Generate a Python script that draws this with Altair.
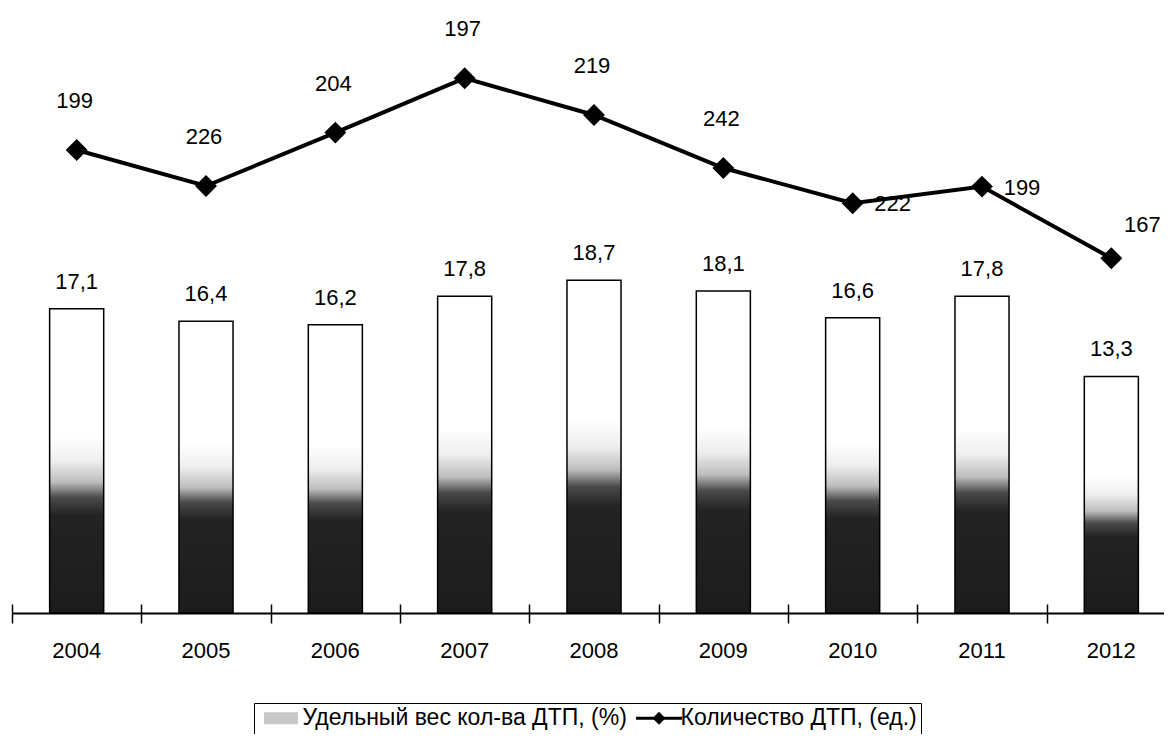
import altair as alt
import pandas as pd

# ---- data ----
years = ["2004", "2005", "2006", "2007", "2008", "2009", "2010", "2011", "2012"]
share_pct = [17.1, 16.4, 16.2, 17.8, 18.7, 18.1, 16.6, 17.8, 13.3]          # bars, %
count_labels = ["199", "226", "204", "197", "219", "242", "222", "199", "167"]  # line labels, ед.
count_level = [231.5, 213.5, 240.2, 267.4, 249.0, 222.5, 204.9, 213.2, 177.4]  # line height as drawn
bar_name = "Удельный вес кол-ва ДТП, (%)"
line_name = "Количество ДТП, (ед.)"

df = pd.DataFrame({
    "year": years,
    "share": share_pct,
    "share_label": [f"{v:.1f}".replace(".", ",") for v in share_pct],
    "level": count_level,
    "count_label": count_labels,
    "series": [line_name] * len(years),
})

FONT = "Liberation Sans"

x_scale = alt.Scale(domain=years, range=[0, 1164], paddingInner=0.582, paddingOuter=0.291)
y_bar = alt.Scale(domain=[0, 33.73])
y_line = alt.Scale(domain=[0, 300])

bar_fill = alt.Gradient(
    gradient="linear", x1=0, y1=0, x2=0, y2=1,
    stops=[
        alt.GradientStop(offset=0, color="#ffffff"),
        alt.GradientStop(offset=0.42, color="#ffffff"),
        alt.GradientStop(offset=0.50, color="#eeeeee"),
        alt.GradientStop(offset=0.57, color="#bdbdbd"),
        alt.GradientStop(offset=0.62, color="#4a4a4a"),
        alt.GradientStop(offset=0.68, color="#232323"),
        alt.GradientStop(offset=1, color="#1c1c1c"),
    ],
)

base = alt.Chart(df)

bars = base.mark_bar(fill=bar_fill, stroke="black", strokeWidth=1.5).encode(
    x=alt.X("year:N", scale=x_scale, axis=alt.Axis(
        title=None, orient="bottom", domain=True, domainColor="black", domainWidth=2, ticks=False,
        labelFont=FONT, labelFontSize=22, labelColor="black", labelPadding=27,
        labelAngle=0, grid=False)),
    y=alt.Y("share:Q", scale=y_bar, axis=None),
)

bar_text = base.mark_text(font=FONT, fontSize=22, color="black", baseline="middle", dy=-27).encode(
    x=alt.X("year:N", scale=x_scale, axis=None),
    y=alt.Y("share:Q", scale=y_bar, axis=None),
    text="share_label:N",
)

line = base.mark_line(strokeWidth=4, color="black").encode(
    x=alt.X("year:N", scale=x_scale, axis=alt.Axis(
        title=None, orient="bottom", domain=False, labels=False, ticks=True, tickSize=19,
        tickColor="black", tickWidth=1.5, tickOffset=-64.67, offset=-9, grid=False)),
    y=alt.Y("level:Q", scale=y_line, axis=None),
)

points = base.mark_point(shape="diamond", filled=True, size=480, color="black", opacity=1).encode(
    x=alt.X("year:N", scale=x_scale, axis=None),
    y=alt.Y("level:Q", scale=y_line, axis=None),
)

# legend only (no marks drawn: data filtered out, scale domains are explicit)
legend = alt.Legend(
    title=None, orient="none", legendX=242, legendY=690, direction="horizontal",
    strokeColor="black", padding=3.5, labelFont=FONT, labelFontSize=23, labelColor="black",
    labelLimit=0, symbolSize=400, symbolStrokeWidth=1, symbolStrokeColor="black",
    symbolOpacity=1, symbolOffset=12, labelOffset=10, columnPadding=6,
)
series_domain = [bar_name, line_name]
legend_layer = base.transform_filter("false").mark_point(filled=True, size=400, strokeWidth=1).encode(
    x=alt.X("year:N", scale=x_scale, axis=None),
    y=alt.Y("level:Q", scale=y_line, axis=None),
    color=alt.Color("series:N", scale=alt.Scale(domain=series_domain, range=["#c8c8c8", "black"]),
                    legend=legend),
    shape=alt.Shape("series:N", scale=alt.Scale(
        domain=series_domain,
        range=["M-1.7,-0.6H1.7V0.6H-1.7Z",
               "M-2.3,-0.14H2.3V0.14H-2.3Z M0,-0.65L0.65,0L0,0.65L-0.65,0Z"]),
        legend=legend),
)

above_years = years[:6]
right_years = ["2010", "2011"]

t_above = base.transform_filter(alt.FieldOneOfPredicate(field="year", oneOf=above_years)).mark_text(
    font=FONT, fontSize=22, color="black", baseline="middle", dx=-2, dy=-49).encode(
    x=alt.X("year:N", scale=x_scale, axis=None),
    y=alt.Y("level:Q", scale=y_line, axis=None),
    text="count_label:N",
)
t_right = base.transform_filter(alt.FieldOneOfPredicate(field="year", oneOf=right_years)).mark_text(
    font=FONT, fontSize=22, color="black", baseline="middle", dx=40, dy=1).encode(
    x=alt.X("year:N", scale=x_scale, axis=None),
    y=alt.Y("level:Q", scale=y_line, axis=None),
    text="count_label:N",
)
t_last = base.transform_filter(alt.FieldEqualPredicate(field="year", equal="2012")).mark_text(
    font=FONT, fontSize=22, color="black", baseline="middle", dx=31, dy=-33).encode(
    x=alt.X("year:N", scale=x_scale, axis=None),
    y=alt.Y("level:Q", scale=y_line, axis=None),
    text="count_label:N",
)

chart = alt.layer(bars, bar_text, line, points, t_above, t_right, t_last, legend_layer).resolve_scale(
    y="independent"
).resolve_axis(
    x="independent"
).properties(
    width=1152, height=600,
    autosize=alt.AutoSizeParams(type="none"),
    padding={"left": 4, "top": 5, "right": 0, "bottom": 121},
    background="white",
).configure_view(stroke=None)

chart.save("out.html", embed_options={"renderer": "svg", "actions": False})
